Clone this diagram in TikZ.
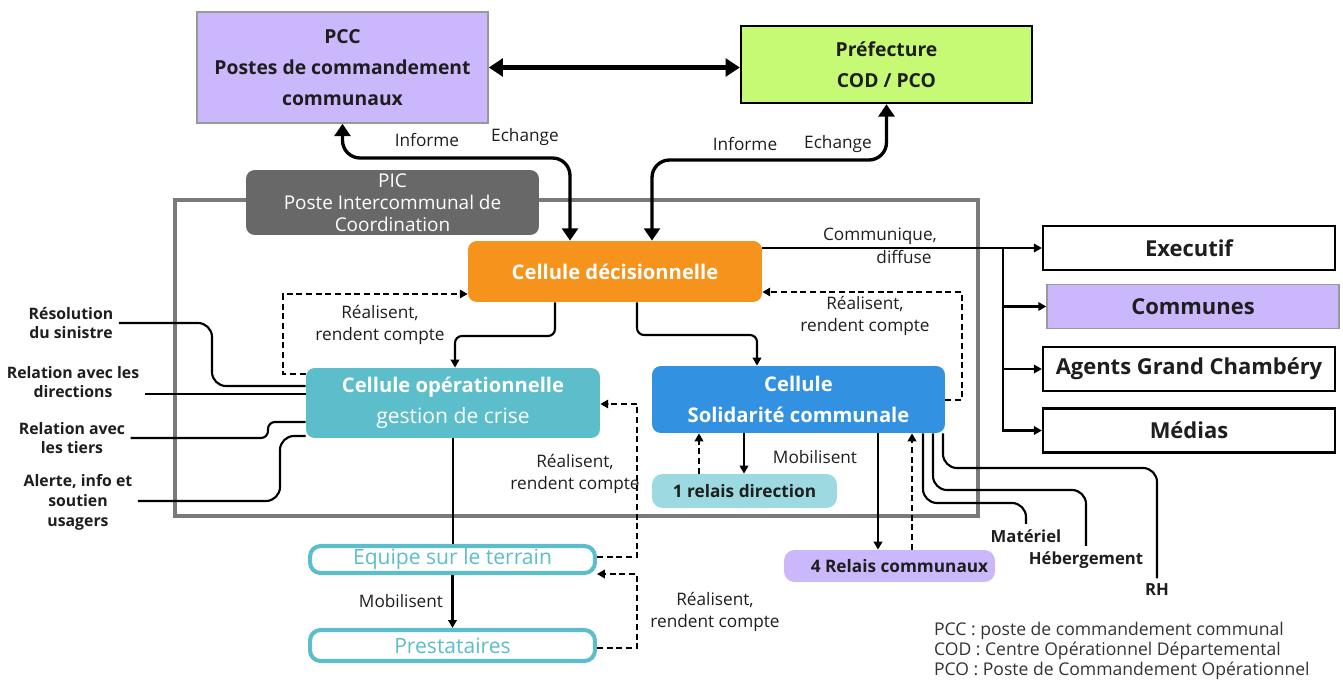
\documentclass[tikz,border=0pt]{standalone}
\usepackage{fontspec}
\setmainfont{Open Sans}
\usetikzlibrary{arrows.meta}
\usetikzlibrary{positioning}
\definecolor{mlav}{RGB}{203,184,252}
\definecolor{mgreen}{RGB}{198,250,117}
\definecolor{morange}{RGB}{245,147,28}
\definecolor{mteal}{RGB}{92,189,203}
\definecolor{mblue}{RGB}{50,145,225}
\definecolor{mpale}{RGB}{157,217,225}
\definecolor{mpic}{RGB}{104,104,104}
\definecolor{mframe}{RGB}{122,122,122}
\definecolor{mtext}{RGB}{30,30,30}
\tikzset{smalltip/.tip = {Triangle[length=4.5pt, width=4.8pt]}}
\tikzset{topbox/.style = {draw, inner sep = 0, align = center, text = mtext, font = \bfseries\fontsize{11}{17.5}\selectfont}}
\tikzset{cellbox/.style = {rounded corners = 5pt, inner sep = 0, align = center, text = white}}
\tikzset{outbox/.style = {draw = black, line width = 1.3pt, fill = white, inner sep = 0, minimum width = 5.84cm, minimum height = 0.88cm, text = mtext, font = \bfseries\fontsize{12.5}{13}\selectfont}}
\tikzset{fieldbox/.style = {draw = mteal, line width = 2.3pt, rounded corners = 6pt, fill = white, text = mteal, inner sep = 0, minimum width = 5.7cm, font = \fontsize{12}{13}\selectfont}}
\tikzset{relbox/.style = {rounded corners = 6pt, inner sep = 0, text = mtext, font = \bfseries\fontsize{9.8}{11}\selectfont}}
\tikzset{lbl/.style = {align = center, inner sep = 1pt, text = mtext, font = \fontsize{9.8}{12}\selectfont}}
\tikzset{side/.style = {align = center, inner sep = 3pt, text = mtext, font = \bfseries\fontsize{9}{11.3}\selectfont}}
\tikzset{link/.style = {line width = 1.2pt}}
\tikzset{dlink/.style = {line width = 1.3pt, dash pattern = on 3.5pt off 2pt}}
\tikzset{bigarrow/.style = {line width = 1.9pt, rounded corners = 10pt, {Triangle[length=7pt, width=9pt]}-{Triangle[length=7pt, width=9pt]}}}

\begin{document}
\begin{tikzpicture}[x=0.02cm, y=-0.02cm]
    \useasboundingbox (0, 0) rectangle (1343, 682);
    % cadre du PIC
    \draw [mframe, line width=2.3pt] (175, 200) rectangle (978, 516);

    % postes de commandement
    \node [topbox, draw=gray!80, line width=0.9pt, fill=mlav, minimum width=5.82cm, minimum height=2.22cm] (pcc) at (342.5, 67.5) {PCC\\Postes de commandement\\communaux};
    \node [topbox, draw=black, line width=1.4pt, fill=mgreen, minimum width=5.82cm, minimum height=1.54cm] (pref) at (886.5, 64.5) {Préfecture\\COD / PCO};
    \node [cellbox, fill=mpic, minimum width=5.86cm, minimum height=1.3cm, font=\fontsize{10.8}{12.5}\selectfont] (pic) at (392.5, 202.5) {PIC\\Poste Intercommunal de\\Coordination};

    % cellules
    \node [cellbox, fill=morange, minimum width=5.88cm, minimum height=1.22cm, font=\bfseries\fontsize{11.5}{12}\selectfont] (dec) at (615, 271.5) {Cellule décisionnelle};
    \node [cellbox, fill=mteal, minimum width=5.88cm, minimum height=1.4cm, font=\bfseries\fontsize{11.5}{17.5}\selectfont] (oper) at (453, 403) {Cellule opérationnelle\\{\mdseries\fontsize{12}{17.5}\selectfont gestion de crise}};
    \node [cellbox, fill=mblue, minimum width=5.86cm, minimum height=1.34cm, font=\bfseries\fontsize{11.5}{17.5}\selectfont] (soli) at (798.5, 399.5) {Cellule\\Solidarité communale};
    \node [relbox, fill=mpale, minimum width=3.7cm, minimum height=0.68cm] (relais1) at (744.5, 491) {1 relais direction};
    \node [relbox, fill=mlav, minimum width=4.22cm, minimum height=0.64cm] (relais4) at (889.5, 566) {\hspace{0.4cm}4 Relais communaux};
    \node [fieldbox, minimum height=0.54cm] (equipe) at (452.5, 559.5) {Equipe sur le terrain};
    \node [fieldbox, minimum height=0.62cm] (presta) at (452.5, 645.5) {Prestataires};

    % destinataires
    \node [outbox] (exec) at (1189, 248) {Executif};
    \node [outbox, draw=gray!80, line width=0.9pt, fill=mlav] (communes) at (1193, 306.5) {Communes};
    \node [outbox] (agents) at (1189, 369) {Agents Grand Chambéry};
    \node [outbox] (medias) at (1189, 430.5) {Médias};

    % missions
    \node [side] (reso) at (71, 323) {Résolution\\du sinistre};
    \node [side] (dirs) at (73, 382) {Relation avec les\\directions};
    \node [side] (tiers) at (72, 438) {Relation avec\\les tiers};
    \node [side] (usagers) at (78, 502) {Alerte, info et\\soutien\\usagers};
    \node [side, font=\bfseries\fontsize{9.5}{11}\selectfont] (mat) at (1026, 536) {Matériel};
    \node [side, font=\bfseries\fontsize{9.5}{11}\selectfont] (heber) at (1086, 560) {Hébergement};
    \node [side, font=\bfseries\fontsize{9.5}{11}\selectfont] (rh) at (1157, 590) {RH};

    % liaisons externes
    \draw [bigarrow, line width=2.3pt, {Triangle[length=8pt, width=10pt]}-{Triangle[length=8pt, width=10pt]}] (pcc.east) -- (pcc.east -| pref.west);
    \draw [bigarrow] (pcc.south) |- (570, 158) -- (dec.north -| 570, 0);
    \draw [bigarrow] (pref.south) |- (652, 160) -- (dec.north -| 652, 0);
    \node [lbl] (inf1) at (427, 140) {Informe};
    \node [lbl] (ech1) at (525, 137) {Echange};
    \node [lbl] (inf2) at (745, 144) {Informe};
    \node [lbl] (ech2) at (838, 144) {Echange};

    % communication
    \coordinate (split) at (1003, 248);
    \draw [link, -smalltip] (dec.east |- split) -- (exec.west);
    \draw [link, -smalltip] (split) |- (communes.west);
    \draw [link, -smalltip] (split) |- (agents.west);
    \draw [link, -smalltip] (split) |- (medias.west);
    \node [lbl] (comm) at (880, 236) {Communique,};
    \node [lbl] (diff) at (904, 257) {diffuse};

    % cellule decisionnelle vers cellules
    \draw [link, rounded corners=4pt, -smalltip] (dec.south -| 555, 0) |- (455, 336) -- (oper.north -| 455, 0);
    \draw [link, rounded corners=4pt, -smalltip] (dec.south -| 637, 0) |- (757, 335) -- (soli.north -| 757, 0);
    \draw [dlink, -smalltip] (oper.west |- 0, 374) -| (283, 294) -- (dec.west |- 0, 294);
    \draw [dlink, -smalltip] (soli.east |- 0, 400) -| (962, 292) -- (dec.east |- 0, 292);
    \node [lbl] (rc1) at (380, 325) {Réalisent,\\rendent compte};
    \node [lbl] (rc2) at (865, 316) {Réalisent,\\rendent compte};

    % missions de la cellule operationnelle
    \draw [link, rounded corners=8pt] (reso.east) -| (212, 386) -- (oper.west |- 0, 386);
    \draw [link] (dirs.east |- 0, 394) -- (oper.west |- 0, 394);
    \draw [link, rounded corners=4pt] (tiers.east |- 0, 438) -| (268, 422) -- (oper.west |- 0, 422);
    \draw [link, rounded corners=8pt] (usagers.east |- 0, 501) -| (280, 436) -- (oper.west |- 0, 436);

    % terrain
    \draw [link] (oper.south) -- (oper.south |- equipe.north);
    \draw [link, -smalltip] (equipe.south) -- (presta.north);
    \node [lbl] (mob1) at (401, 601) {Mobilisent};
    \draw [dlink, -smalltip] (equipe.east |- 0, 557) -| (637, 404) -- (oper.east |- 0, 404);
    \draw [dlink, -smalltip] (presta.east |- 0, 648) -| (637, 574) -- (equipe.east |- 0, 574);
    \node [lbl] (rc3) at (575, 474) {Réalisent,\\rendent compte};
    \node [lbl] (rc4) at (715, 612) {Réalisent,\\rendent compte};

    % relais
    \draw [dlink, -smalltip] (relais1.north -| 699, 0) -- (soli.south -| 699, 0);
    \draw [link, -smalltip] (soli.south -| 744, 0) -- (relais1.north -| 744, 0);
    \node [lbl] (mob2) at (815, 457) {Mobilisent};
    \draw [link, -smalltip] (soli.south -| 878, 0) -- (relais4.north -| 878, 0);
    \draw [dlink, -smalltip] (relais4.north -| 912, 0) -- (soli.south -| 912, 0);

    % moyens
    \draw [link, rounded corners=8pt] (soli.south -| 923, 0) |- (mat.north |- 0, 503) -- (mat.north);
    \draw [link, rounded corners=8pt] (soli.south -| 933, 0) |- (heber.north |- 0, 490) -- (heber.north);
    \draw [link, rounded corners=8pt] (soli.south -| 943, 0) |- (rh.north |- 0, 468) -- (rh.north);

    % legende
    \node [lbl, anchor=west, align=left, text=black!80, font=\fontsize{10}{11.3}\selectfont] (legende) at (932, 651) {PCC : poste de commandement communal\\COD : Centre Opérationnel Départemental\\PCO : Poste de Commandement Opérationnel};
\end{tikzpicture}
\end{document}
